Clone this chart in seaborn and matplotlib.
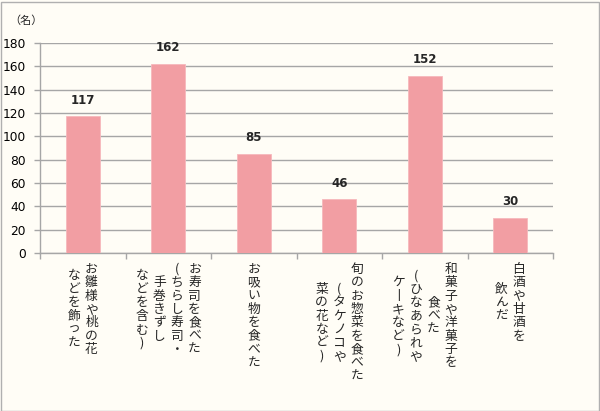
import numpy as np
import pandas as pd
import seaborn as sns
import matplotlib.pyplot as plt
from matplotlib.patches import Rectangle

# labels: '\n' separates the vertical columns (first column drawn rightmost)
categories = [
    'お雛様や桃の花\nなどを飾った',
    'お寿司を食べた\n(ちらし寿司・\n手巻きずし\nなどを含む)',
    'お吸い物を食べた',
    '旬のお惣菜を食べた\n(タケノコや\n菜の花など)',
    '和菓子や洋菓子を\n食べた\n(ひなあられや\nケーキなど)',
    '白酒や甘酒を\n飲んだ',
]
values = [117, 162, 85, 46, 152, 30]
y_ticks = [0, 20, 40, 60, 80, 100, 120, 140, 160, 180]
unit_label = '（名）'

BG = '#FFFDF6'
BAR = '#F29EA3'
GRID = '#A6A6A6'

sns.set_style('white')
plt.rcParams['font.family'] = ['Noto Sans CJK JP', 'DejaVu Sans']

fig = plt.figure(figsize=(6, 4.11), dpi=100, facecolor=BG)
ax = fig.add_axes([40 / 600, 1 - 253 / 411, 513 / 600, 210 / 411])
ax.set_facecolor(BG)

df = pd.DataFrame({'cat': categories, 'val': values})
sns.barplot(data=df, x='cat', y='val', color=BAR, width=0.4, saturation=1,
            edgecolor='#F6B8BC', linewidth=0.6, ax=ax, zorder=3)

ax.set_xlim(-0.5, len(categories) - 0.5)
ax.set_ylim(0, 180)
ax.set_yticks(y_ticks)
ax.set_yticklabels([str(t) for t in y_ticks], family='DejaVu Sans', fontsize=8.8)
ax.tick_params(axis='y', left=True, length=4, width=1, color=GRID, pad=6,
               labelcolor='black')
ax.yaxis.grid(True, color=GRID, linewidth=1)
ax.set_axisbelow(True)
ax.set_xlabel('')
ax.set_ylabel('')

for s in ['top', 'right']:
    ax.spines[s].set_visible(False)
for s in ['left', 'bottom']:
    ax.spines[s].set_color(GRID)
    ax.spines[s].set_linewidth(1)

# ticks between categories, no labels on the major ticks
ax.set_xticks([])
ax.set_xticks(np.arange(-0.5, len(categories)), minor=True)
ax.tick_params(axis='x', which='minor', bottom=True, length=4, color=GRID, width=1)

# value labels
for i, v in enumerate(values):
    ax.annotate(str(v), (i, v), xytext=(0, 7), textcoords='offset points',
                ha='center', va='bottom', fontsize=8.5, fontweight='bold',
                family='DejaVu Sans')

# vertical (tategaki) category labels
char_step = 13.4 * 0.72  # points
col_step = 17.5 * 0.72
for i, lab in enumerate(categories):
    cols = lab.split('\n')
    n = len(cols)
    maxlen = max(len(c) for c in cols)
    for j, col in enumerate(cols):
        dx = ((n - 1) / 2 - j) * col_step
        dy = -7 - (maxlen - len(col)) / 2 * char_step
        for k, ch in enumerate(col.replace('ー', '丨')):
            ax.annotate(ch, (i, 0), xycoords=('data', 'axes fraction'),
                        xytext=(dx, dy - k * char_step), textcoords='offset points',
                        ha='center', va='top', fontsize=9.2)

fig.text(9 / 600, 1 - 21 / 411, unit_label, fontsize=8, ha='left', va='center')

fig.patches.append(Rectangle((0.5 / 600, 0.5 / 411), 598 / 600, 408 / 411,
                             transform=fig.transFigure, fill=False,
                             edgecolor='#B0B0B0', linewidth=1))

fig.savefig('out.png', dpi=100, facecolor=BG)
